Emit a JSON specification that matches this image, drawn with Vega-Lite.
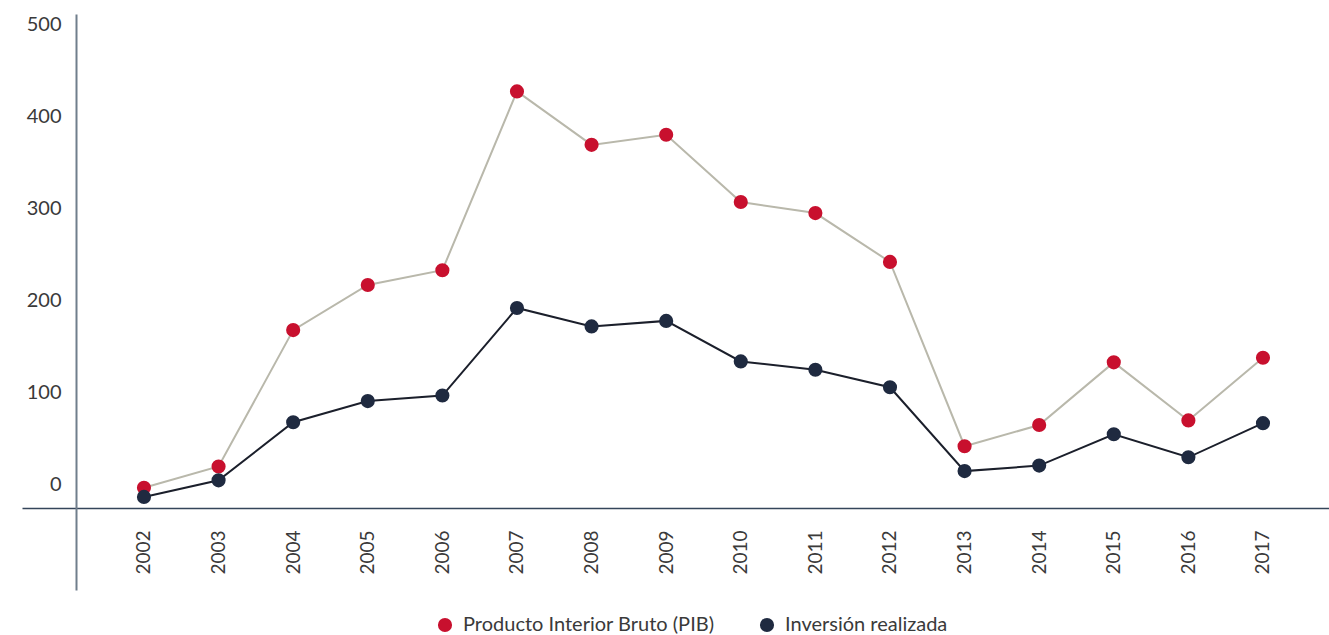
{
  "$schema": "https://vega.github.io/schema/vega-lite/v6.json",
  "width": 1307,
  "height": 576,
  "autosize": "none",
  "padding": {"left": 22, "top": 14, "right": 0, "bottom": 45},
  "background": "white",
  "config": {
    "view": {"stroke": null},
    "font": "Lato",
    "axis": {"labelFont": "Lato", "labelColor": "#3a3a3a", "grid": false, "ticks": false, "title": null},
    "legend": {"labelFont": "Lato", "labelColor": "#3a3a3a"}
  },
  "data": {
    "values": [
      {"anio": 2002, "serie": "Producto Interior Bruto (PIB)", "valor": -3},
      {"anio": 2003, "serie": "Producto Interior Bruto (PIB)", "valor": 20},
      {"anio": 2004, "serie": "Producto Interior Bruto (PIB)", "valor": 168},
      {"anio": 2005, "serie": "Producto Interior Bruto (PIB)", "valor": 217},
      {"anio": 2006, "serie": "Producto Interior Bruto (PIB)", "valor": 233},
      {"anio": 2007, "serie": "Producto Interior Bruto (PIB)", "valor": 427},
      {"anio": 2008, "serie": "Producto Interior Bruto (PIB)", "valor": 369},
      {"anio": 2009, "serie": "Producto Interior Bruto (PIB)", "valor": 380},
      {"anio": 2010, "serie": "Producto Interior Bruto (PIB)", "valor": 307},
      {"anio": 2011, "serie": "Producto Interior Bruto (PIB)", "valor": 295},
      {"anio": 2012, "serie": "Producto Interior Bruto (PIB)", "valor": 242},
      {"anio": 2013, "serie": "Producto Interior Bruto (PIB)", "valor": 42},
      {"anio": 2014, "serie": "Producto Interior Bruto (PIB)", "valor": 65},
      {"anio": 2015, "serie": "Producto Interior Bruto (PIB)", "valor": 133},
      {"anio": 2016, "serie": "Producto Interior Bruto (PIB)", "valor": 70},
      {"anio": 2017, "serie": "Producto Interior Bruto (PIB)", "valor": 138},
      {"anio": 2002, "serie": "Inversión realizada", "valor": -13},
      {"anio": 2003, "serie": "Inversión realizada", "valor": 5},
      {"anio": 2004, "serie": "Inversión realizada", "valor": 68},
      {"anio": 2005, "serie": "Inversión realizada", "valor": 91},
      {"anio": 2006, "serie": "Inversión realizada", "valor": 97},
      {"anio": 2007, "serie": "Inversión realizada", "valor": 192},
      {"anio": 2008, "serie": "Inversión realizada", "valor": 172},
      {"anio": 2009, "serie": "Inversión realizada", "valor": 178},
      {"anio": 2010, "serie": "Inversión realizada", "valor": 134},
      {"anio": 2011, "serie": "Inversión realizada", "valor": 125},
      {"anio": 2012, "serie": "Inversión realizada", "valor": 106},
      {"anio": 2013, "serie": "Inversión realizada", "valor": 15},
      {"anio": 2014, "serie": "Inversión realizada", "valor": 21},
      {"anio": 2015, "serie": "Inversión realizada", "valor": 55},
      {"anio": 2016, "serie": "Inversión realizada", "valor": 30},
      {"anio": 2017, "serie": "Inversión realizada", "valor": 67}
    ]
  },
  "encoding": {
    "x": {
      "field": "anio",
      "type": "quantitative",
      "scale": {"domain": [2000.365, 2017.885], "nice": false, "zero": false},
      "axis": {
        "orient": "bottom",
        "offset": -82,
        "values": [2002, 2003, 2004, 2005, 2006, 2007, 2008, 2009, 2010, 2011, 2012, 2013, 2014, 2015, 2016, 2017],
        "format": "d",
        "labelAngle": -90,
        "labelAlign": "right",
        "labelBaseline": "middle",
        "labelPadding": 22,
        "labelFontSize": 19,
        "labelFlush": false,
        "labelOverlap": false,
        "domainColor": "#34455a",
        "domainWidth": 1.5
      }
    },
    "y": {
      "field": "valor",
      "type": "quantitative",
      "scale": {"domain": [-114, 511], "nice": false, "zero": false},
      "axis": {
        "orient": "left",
        "offset": -54,
        "values": [0, 100, 200, 300, 400, 500],
        "labelPadding": 15,
        "labelFontSize": 20,
        "labelFlush": false,
        "domainColor": "#707e8c",
        "domainWidth": 2
      }
    }
  },
  "layer": [
    {
      "transform": [{"filter": "datum.serie === 'Producto Interior Bruto (PIB)'"}],
      "mark": {"type": "line", "strokeWidth": 2, "color": "#b9b8ab"},
      "encoding": {}
    },
    {
      "transform": [{"filter": "datum.serie === 'Inversión realizada'"}],
      "mark": {"type": "line", "strokeWidth": 2, "color": "#1b1f2b"},
      "encoding": {}
    },
    {
      "mark": {"type": "point", "filled": true, "opacity": 1, "size": 200, "shape": "circle"},
      "encoding": {
        "color": {
          "field": "serie",
          "type": "nominal",
          "scale": {"domain": ["Producto Interior Bruto (PIB)", "Inversión realizada"], "range": ["#c8102e", "#1f2a40"]},
          "legend": {
            "title": null,
            "orient": "none",
            "direction": "horizontal",
            "legendX": 413,
            "legendY": 601,
            "symbolType": "circle",
            "symbolSize": 200,
            "symbolStrokeWidth": 0,
            "labelFontSize": 20,
            "labelOffset": 8,
            "columnPadding": 42,
            "labelLimit": 400
          }
        }
      }
    }
  ]
}
